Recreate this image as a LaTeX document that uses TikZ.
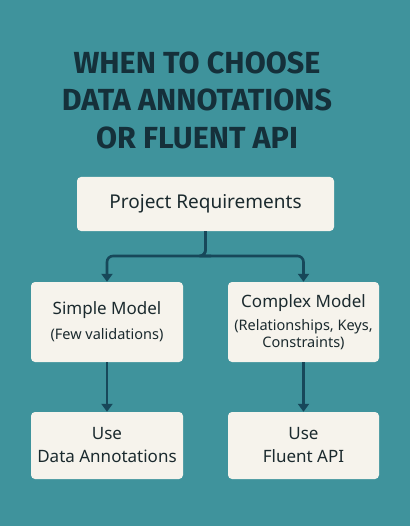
\documentclass[tikz,border=0pt]{standalone}
\usepackage{fontspec}
\setmainfont{Noto Sans}
\newfontfamily\titlefont{Fira Sans}
\usetikzlibrary{arrows.meta}
\definecolor{bg}{HTML}{3F939C}
\definecolor{boxfill}{HTML}{F6F3EC}
\definecolor{ink}{HTML}{1B2A2E}
\definecolor{titleink}{HTML}{15303A}
\definecolor{arrowc}{HTML}{17485A}
\tikzset{
  box/.style={fill=boxfill, rounded corners=4pt, inner sep=0pt, text=ink, align=center, font=\fontsize{17}{23}\selectfont},
  conn/.style={draw=arrowc, line width=2.6pt, -{Triangle[length=8pt,width=11pt]}, rounded corners=6pt},
}
\newcommand{\smalltxt}{\fontsize{14.5}{17.5}\selectfont}
\begin{document}
\begin{tikzpicture}[x=1pt,y=-1pt]
\fill[bg] (0,0) rectangle (410,526);
\useasboundingbox (0,0) rectangle (410,526);
\node[text=titleink, font=\titlefont\bfseries\fontsize{30.5}{37.5}\selectfont, align=center] (title) at (197,100) {WHEN TO CHOOSE\\DATA ANNOTATIONS\\OR FLUENT API};
\node[box, minimum width=257pt, minimum height=54pt, font=\fontsize{19}{22}\selectfont] (proj) at (205.5,204) {Project Requirements};
\node[box, minimum width=152pt, minimum height=80pt] (simple) at (107,322) {Simple Model\\[2pt]\smalltxt (Few validations)};
\node[box, minimum width=151pt, minimum height=80pt] (complex) at (303.5,322) {Complex Model\\[0pt]\smalltxt (Relationships, Keys,\\[-6pt]\smalltxt Constraints)};
\node[box, minimum width=152pt, minimum height=67pt] (usedata) at (107,445.5) {Use\\Data Annotations};
\node[box, minimum width=151pt, minimum height=67pt] (usefluent) at (303.5,445.5) {Use\\Fluent API};
\coordinate (split) at (205,256);
\draw[conn] (proj.south) |- (split) -| (simple.north);
\draw[conn] (proj.south) |- (split) -| (complex.north);
\draw[conn] (simple.south) -- (usedata.north);
\draw[conn] (complex.south) -- (usefluent.north);
\end{tikzpicture}
\end{document}
